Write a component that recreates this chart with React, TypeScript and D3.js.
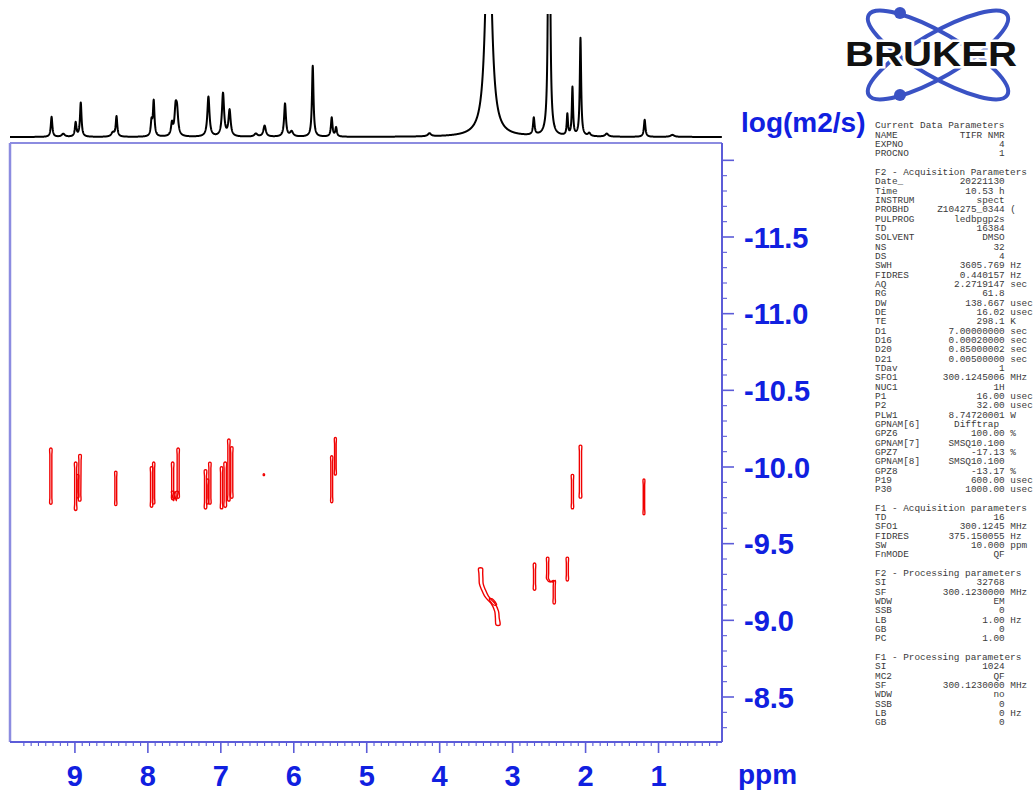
import React from 'react';
import * as d3 from 'd3';

const W = 1034;
const H = 793;

// 1D projection (F2) peak list: position (ppm), height, FWHM (ppm)
const peakPpm = [9.32, 9.16, 8.99, 8.92, 8.48, 8.43, 7.95, 7.92, 7.67, 7.62, 7.6, 7.17, 6.97, 6.88, 6.52, 6.4, 6.12, 6.03, 5.74, 5.48, 5.42, 4.14, 3.33, 2.71, 2.5, 2.25, 2.18, 2.07, 1.95, 1.71, 1.19, 0.81];
const peakHeight = [20, 3, 14, 34, 4, 20, 14, 35, 12, 25, 22, 40, 43, 26, 3, 11, 33, 5, 71, 19, 9, 3, 260, 17, 700, 21, 48, 98, 3, 3, 17, 2];
const peakWidth = [0.025, 0.05, 0.025, 0.025, 0.05, 0.025, 0.025, 0.025, 0.03, 0.035, 0.035, 0.035, 0.035, 0.035, 0.05, 0.04, 0.03, 0.05, 0.025, 0.025, 0.025, 0.05, 0.09, 0.025, 0.018, 0.02, 0.02, 0.022, 0.04, 0.05, 0.025, 0.06];

// axis ticks
const ppmTickLabels = [9, 8, 7, 6, 5, 4, 3, 2, 1];
const logDTickLabels = [-11.5, -11.0, -10.5, -10.0, -9.5, -9.0, -8.5];

// DOSY cross peaks: centre-line points [ppm, log D] and half-width (px) of the contour
const crossPeaks: { pts: [number, number][]; hw: number }[] = [
  { pts: [[9.33, -10.12], [9.33, -9.76]], hw: 1.0 },
  { pts: [[8.99, -10.03], [8.99, -9.72]], hw: 1.0 },
  { pts: [[8.93, -10.08], [8.935, -9.78]], hw: 1.1 },
  { pts: [[8.96, -9.95], [8.96, -9.8]], hw: 0.8 },
  { pts: [[8.44, -9.97], [8.44, -9.75]], hw: 0.9 },
  { pts: [[7.95, -10.0], [7.95, -9.74]], hw: 1.0 },
  { pts: [[7.92, -10.03], [7.92, -9.76]], hw: 0.9 },
  { pts: [[7.66, -10.03], [7.66, -9.79]], hw: 1.0 },
  { pts: [[7.585, -10.12], [7.585, -9.8]], hw: 1.0 },
  { pts: [[7.66, -9.84], [7.63, -9.78], [7.6, -9.84]], hw: 1.3 },
  { pts: [[7.21, -9.98], [7.21, -9.73]], hw: 1.0 },
  { pts: [[7.18, -9.92], [7.18, -9.76]], hw: 0.8 },
  { pts: [[7.15, -10.03], [7.15, -9.76]], hw: 1.0 },
  { pts: [[6.99, -10.0], [6.99, -9.73]], hw: 1.0 },
  { pts: [[6.94, -10.03], [6.94, -9.74]], hw: 1.1 },
  { pts: [[6.89, -10.18], [6.89, -9.78]], hw: 1.0 },
  { pts: [[6.85, -10.13], [6.85, -9.8]], hw: 1.0 },
  { pts: [[6.41, -9.955], [6.41, -9.945]], hw: 0.5 },
  { pts: [[5.48, -10.07], [5.48, -9.77]], hw: 0.9 },
  { pts: [[5.43, -10.19], [5.43, -9.95]], hw: 0.8 },
  { pts: [[2.18, -9.95], [2.18, -9.73]], hw: 1.0 },
  { pts: [[2.07, -10.14], [2.07, -9.8]], hw: 1.1 },
  { pts: [[1.2, -9.92], [1.2, -9.69]], hw: 0.7 },
  { pts: [[2.7, -9.37], [2.7, -9.2]], hw: 1.0 },
  { pts: [[2.25, -9.41], [2.25, -9.26]], hw: 1.0 },
  { pts: [[2.52, -9.41], [2.52, -9.27], [2.47, -9.25], [2.43, -9.26], [2.43, -9.11]], hw: 1.0 },
  { pts: [[3.44, -9.34], [3.43, -9.24], [3.4, -9.2], [3.36, -9.16], [3.31, -9.13], [3.27, -9.11], [3.22, -9.06], [3.2, -8.97]], hw: 1.9 },
  { pts: [[3.3, -9.14], [3.24, -9.1]], hw: 1.5 },
];

// acquisition / processing parameter block
const paramLines: [string, string?, string?][] = [
  ['Current Data Parameters'],
  ['NAME', 'TIFR NMR'],
  ['EXPNO', '4'],
  ['PROCNO', '1'],
  [''],
  ['F2 - Acquisition Parameters'],
  ['Date_', '20221130'],
  ['Time', '10.53 h'],
  ['INSTRUM', 'spect'],
  ['PROBHD', 'Z104275_0344', '('],
  ['PULPROG', 'ledbpgp2s'],
  ['TD', '16384'],
  ['SOLVENT', 'DMSO'],
  ['NS', '32'],
  ['DS', '4'],
  ['SWH', '3605.769', 'Hz'],
  ['FIDRES', '0.440157', 'Hz'],
  ['AQ', '2.2719147', 'sec'],
  ['RG', '61.8'],
  ['DW', '138.667', 'usec'],
  ['DE', '16.02', 'usec'],
  ['TE', '298.1', 'K'],
  ['D1', '7.00000000', 'sec'],
  ['D16', '0.00020000', 'sec'],
  ['D20', '0.85000002', 'sec'],
  ['D21', '0.00500000', 'sec'],
  ['TDav', '1'],
  ['SFO1', '300.1245006', 'MHz'],
  ['NUC1', '1H'],
  ['P1', '16.00', 'usec'],
  ['P2', '32.00', 'usec'],
  ['PLW1', '8.74720001', 'W'],
  ['GPNAM[6]', 'Difftrap '],
  ['GPZ6', '100.00', '%'],
  ['GPNAM[7]', 'SMSQ10.100'],
  ['GPZ7', '-17.13', '%'],
  ['GPNAM[8]', 'SMSQ10.100'],
  ['GPZ8', '-13.17', '%'],
  ['P19', '600.00', 'usec'],
  ['P30', '1000.00', 'usec'],
  [''],
  ['F1 - Acquisition parameters'],
  ['TD', '16'],
  ['SFO1', '300.1245', 'MHz'],
  ['FIDRES', '375.150055', 'Hz'],
  ['SW', '10.000', 'ppm'],
  ['FnMODE', 'QF'],
  [''],
  ['F2 - Processing parameters'],
  ['SI', '32768'],
  ['SF', '300.1230000', 'MHz'],
  ['WDW', 'EM'],
  ['SSB', '0'],
  ['LB', '1.00', 'Hz'],
  ['GB', '0'],
  ['PC', '1.00'],
  [''],
  ['F1 - Processing parameters'],
  ['SI', '1024'],
  ['MC2', 'QF'],
  ['SF', '300.1230000', 'MHz'],
  ['WDW', 'no'],
  ['SSB', '0'],
  ['LB', '0', 'Hz'],
  ['GB', '0'],
];

const BLUE = '#1020e0';
const AXIS = '#5c5cd8';
const FRAME = '#8c8ce0';
const SANS = "'Liberation Sans', Arial, Helvetica, sans-serif";
const MONO = "'Liberation Mono', 'Courier New', monospace";

export default function App() {
  const left = 10, right = 722, top = 143, bottom = 742;
  const x = d3.scaleLinear().domain([9.89, 0.13]).range([left, right]);
  const y = d3.scaleLinear().domain([-11.5, -8.5]).range([237, 697]);
  const ys = d3.scaleLinear().domain([0, 123]).range([137, 14]);

  // 1D trace built from the peak list (Lorentzian lines)
  const grid = d3.range(9.89, 0.13, -0.002);
  const spec: [number, number][] = grid.map((p) => {
    let s = 0;
    for (let i = 0; i < peakPpm.length; i++) {
      const u = (2 * (p - peakPpm[i])) / peakWidth[i];
      s += peakHeight[i] / (1 + u * u);
    }
    return [p, s];
  });
  const specLine = d3.line<[number, number]>().x((d) => x(d[0])).y((d) => ys(d[1]))(spec) || '';

  // contour outline around a centre line (densified so sides stay straight)
  const ring = (pts: [number, number][], hw: number) => {
    const raw = pts.map(([p, v]) => [x(p), y(v)] as [number, number]);
    const px: [number, number][] = [];
    for (let i = 0; i < raw.length - 1; i++) {
      const a = raw[i], b = raw[i + 1];
      const len = Math.hypot(b[0] - a[0], b[1] - a[1]);
      const n = Math.max(1, Math.round(len / 6));
      for (let k = 0; k < n; k++) px.push([a[0] + ((b[0] - a[0]) * k) / n, a[1] + ((b[1] - a[1]) * k) / n]);
    }
    px.push(raw[raw.length - 1]);
    const l = px.map(([a, b]) => [a - hw, b] as [number, number]);
    const r = px.slice().reverse().map(([a, b]) => [a + hw, b] as [number, number]);
    return d3.line().curve(d3.curveCatmullRomClosed)([...l, ...r]) || '';
  };

  const ppmMinor = d3.range(1, 98).map((i) => i / 10).filter((p) => p <= 9.89 && p >= 0.13);
  const dMinor = d3.range(-120, -82).map((i) => i / 10);

  const cw = 9.4 * 0.6;
  const tx = 875;

  return (
    <div style={{ position: 'absolute', left: 0, top: 0, width: W, height: H, background: '#fff' }}>
      <svg width={W} height={H} viewBox={`0 0 ${W} ${H}`} style={{ display: 'block' }}>
        <defs>
          <clipPath id="specClip">
            <rect x={0} y={14} width={730} height={130} />
          </clipPath>
          <clipPath id="plotClip">
            <rect x={left} y={top} width={right - left} height={bottom - top} />
          </clipPath>
        </defs>
        <rect x={0} y={0} width={W} height={H} fill="#fff" />

        {/* 1D projection */}
        <path d={specLine} fill="none" stroke="#000" strokeWidth={2} strokeLinejoin="round" clipPath="url(#specClip)" />

        {/* frame */}
        <line x1={left} y1={top} x2={right} y2={top} stroke={FRAME} strokeWidth={2} />
        <line x1={left} y1={top} x2={left} y2={bottom} stroke={FRAME} strokeWidth={2.5} />
        <line x1={left} y1={bottom} x2={right} y2={bottom} stroke={AXIS} strokeWidth={2} />
        <line x1={right} y1={top} x2={right} y2={bottom} stroke={AXIS} strokeWidth={2} />

        {/* contours */}
        <g clipPath="url(#plotClip)" fill="none" stroke="#f00000" strokeWidth={1.4}>
          {crossPeaks.map((c, i) => (
            <path key={i} d={ring(c.pts, c.hw)} />
          ))}
        </g>

        {/* bottom axis ticks */}
        <g stroke={AXIS}>
          {ppmMinor.map((p) => {
            const major = Math.abs(p - Math.round(p)) < 1e-6;
            return <line key={p} x1={x(p)} x2={x(p)} y1={bottom} y2={bottom + (major ? 11 : 4)} strokeWidth={major ? 1.6 : 1.1} />;
          })}
        </g>
        {ppmTickLabels.map((p) => (
          <text key={p} x={x(p)} y={786} textAnchor="middle" fontFamily={SANS} fontWeight="bold" fontSize={29} fill={BLUE}>
            {p}
          </text>
        ))}
        <text x={738} y={784} fontFamily={SANS} fontWeight="bold" fontSize={28} fill={BLUE}>ppm</text>

        {/* right axis ticks */}
        <g stroke={AXIS}>
          {dMinor.map((v) => {
            const major = Math.abs(v * 2 - Math.round(v * 2)) < 1e-6;
            return <line key={v} x1={right} x2={right + (major ? 12 : 5)} y1={y(v)} y2={y(v)} strokeWidth={major ? 1.6 : 1.1} />;
          })}
        </g>
        {logDTickLabels.map((v) => (
          <text key={v} x={744} y={y(v) + 10.5} fontFamily={SANS} fontWeight="bold" fontSize={29} fill={BLUE}>
            {v.toFixed(1)}
          </text>
        ))}
        <text x={741} y={132} fontFamily={SANS} fontWeight="bold" fontSize={28} fill={BLUE}>log(m2/s)</text>

        {/* parameter block */}
        <g fontFamily={MONO} fontSize={9.4} fill="#3a3a3a">
          {paramLines.map((ln, i) => {
            const yy = 128.3 + i * 9.33;
            return (
              <g key={i}>
                <text x={tx} y={yy}>{ln[0]}</text>
                {ln[1] !== undefined && (
                  <text x={tx + 23 * cw} y={yy} textAnchor="end" style={{ whiteSpace: 'pre' }}>{ln[1]}</text>
                )}
                {ln[2] !== undefined && <text x={tx + 24 * cw} y={yy}>{ln[2]}</text>}
              </g>
            );
          })}
        </g>

        {/* Bruker logo */}
        <g>
          <ellipse cx={938} cy={55} rx={80} ry={22} transform="rotate(30 938 55)" fill="none" stroke="#3a52c4" strokeWidth={4} />
          <ellipse cx={938} cy={55} rx={80} ry={22} transform="rotate(-30 938 55)" fill="none" stroke="#3a52c4" strokeWidth={4} />
          <circle cx={900} cy={13} r={6} fill="#3a52c4" />
          <circle cx={900} cy={95} r={6} fill="#3a52c4" />
          <text x={845} y={66} fontFamily={SANS} fontWeight="bold" fontSize={35} textLength={172} lengthAdjust="spacingAndGlyphs"
            fill="#111" stroke="#fff" strokeWidth={5} style={{ paintOrder: 'stroke' }}>BRUKER</text>
        </g>
      </svg>
    </div>
  );
}
